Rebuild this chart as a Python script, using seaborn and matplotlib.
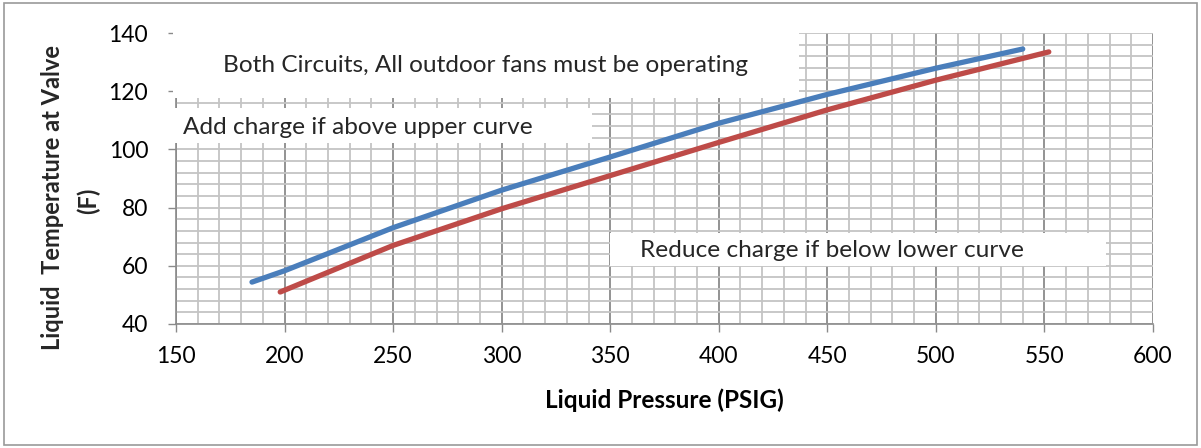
import numpy as np
import pandas as pd
import seaborn as sns
import matplotlib
matplotlib.use("Agg")
import matplotlib.pyplot as plt
from matplotlib.ticker import MultipleLocator
from matplotlib.patches import Rectangle

# values
upper_pressure = [185, 200, 250, 300, 350, 400, 450, 500, 540]
upper_temp = [54.4, 58.3, 73.1, 86.0, 97.4, 109.0, 118.9, 127.9, 134.5]
lower_pressure = [198, 250, 300, 350, 400, 450, 500, 552]
lower_temp = [51.0, 67.0, 79.6, 91.0, 102.4, 113.6, 123.8, 133.5]

x_ticks = [150, 200, 250, 300, 350, 400, 450, 500, 550, 600]
y_ticks = [40, 60, 80, 100, 120, 140]

note_top = "Both Circuits, All outdoor fans must be operating"
note_add = "Add charge if above upper curve"
note_reduce = "Reduce charge if below lower curve"

upper = pd.DataFrame({"pressure": upper_pressure, "temp": upper_temp})
lower = pd.DataFrame({"pressure": lower_pressure, "temp": lower_temp})

sns.set_theme(style="white")
plt.rcParams['font.family'] = ['Lato', 'DejaVu Sans']

fig = plt.figure(figsize=(12.01, 4.48), dpi=100)
ax = fig.add_axes([176 / 1201, 1 - 324 / 448, 977 / 1201, 291 / 448])

# outer chart border
fig.patches.append(Rectangle((4 / 1201, 3 / 448), 1193 / 1201, 442 / 448,
                             transform=fig.transFigure, fill=False,
                             edgecolor='#9a9a9a', lw=1.2))

sns.lineplot(data=upper, x="pressure", y="temp", color='#4a7ebb', lw=3.8,
             solid_capstyle='round', ax=ax, zorder=4)
sns.lineplot(data=lower, x="pressure", y="temp", color='#be4b48', lw=3.8,
             solid_capstyle='round', ax=ax, zorder=4)

ax.set_xlim(150, 600)
ax.set_ylim(40, 140)
ax.set_xticks(x_ticks)
ax.set_yticks(y_ticks)
ax.xaxis.set_minor_locator(MultipleLocator(10))
ax.yaxis.set_minor_locator(MultipleLocator(4))

ax.set_axisbelow(True)
ax.grid(which='minor', color='#c4c4c4', lw=1.3)
ax.grid(which='major', axis='y', color='#c4c4c4', lw=1.3)
ax.grid(which='major', axis='x', color='#8a8a8a', lw=1.3)

ax.tick_params(which='major', direction='out', length=6, width=1.0,
               color='#8a8a8a', labelsize=16.5, labelcolor='black')
ax.tick_params(axis='x', which='major', pad=10, bottom=True)
ax.tick_params(axis='y', which='major', pad=14, left=True)
ax.tick_params(which='minor', length=0)

for side in ['top', 'right']:
    ax.spines[side].set_visible(False)
for side in ['left', 'bottom']:
    ax.spines[side].set_color('#8a8a8a')
    ax.spines[side].set_linewidth(1.2)

ax.set_xlabel("Liquid Pressure (PSIG)", fontsize=17.5, fontweight='bold',
              color='black', va='center')
ax.xaxis.set_label_coords(0.5, -0.261)
ax.set_ylabel("")
# two-line y title, each line placed on its own
ax.text(-0.1259, 0.436, "Liquid  Temperature at Valve", transform=ax.transAxes,
        rotation=90, ha='center', va='center', fontsize=17, fontweight='bold')
ax.text(-0.0901, 0.424, "(F)", transform=ax.transAxes,
        rotation=90, ha='center', va='center', fontsize=17, fontweight='bold')

# white note boxes laid over the grid
boxes = [(-0.003, 0.7766, 0.6407, 0.232),
         (-0.003, 0.622, 0.4288, 0.120),
         (0.4442, 0.1993, 0.5077, 0.1134)]
for x0, y0, w, h in boxes:
    ax.add_patch(Rectangle((x0, y0), w, h, transform=ax.transAxes,
                           facecolor='white', edgecolor='none', zorder=2.7,
                           clip_on=False))

ax.text(0.3163, 0.890, note_top, transform=ax.transAxes, ha='center',
        va='center', fontsize=17.6, zorder=3)
ax.text(0.007, 0.675, note_add, transform=ax.transAxes, ha='left',
        va='center', fontsize=17.6, zorder=3)
ax.text(0.475, 0.251, note_reduce, transform=ax.transAxes, ha='left',
        va='center', fontsize=17.6, zorder=3)

fig.savefig("out.png", dpi=100)
